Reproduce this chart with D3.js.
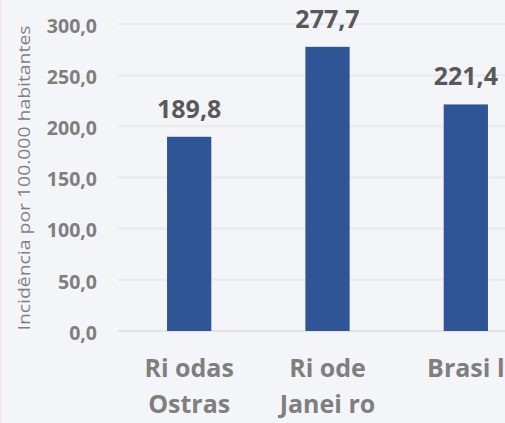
<!DOCTYPE html>
<html>
<head>
<meta charset="utf-8">
<script src="https://cdn.jsdelivr.net/npm/d3@7"></script>
<style>
  body { margin: 0; background: #f4f5f8; }
  svg { display: block; }
</style>
</head>
<body>
<script>
// categories (two lines each), values and tick labels
const categoryLines = [["Ri odas", "Ostras"], ["Ri ode", "Janei ro"], ["Brasi l"]];
const categories = ["Rio das Ostras", "Rio de Janeiro", "Brasil"];
const values = [189.8, 277.7, 221.4];
const yTicks = [0, 50, 100, 150, 200, 250, 300];
const yTitle = "Incidência por 100.000 habitantes";

const width = 505, height = 423;
const fmt = v => d3.format(".1f")(v).replace(".", ",");
const font = "'Open Sans', 'Liberation Sans', sans-serif";

let svg = d3.select("body").append("svg")
	.attr("width", width).attr("height", height);

svg.append("rect").attr("width", width).attr("height", height).attr("fill", "#f4f5f8");
// faint left border
svg.append("line").attr("x1", 0.5).attr("x2", 0.5).attr("y1", 0).attr("y2", height)
	.attr("stroke", "#f6e8d8").attr("stroke-width", 1);

let x = d3.scaleBand().domain(categories).range([120, 535]).paddingInner(0.68).paddingOuter(0.34);
let y = d3.scaleLinear().domain([0, 300]).range([331, 24]);

// gridlines
svg.append("g").selectAll("line")
	.data(yTicks)
	.enter().append("line")
	.attr("x1", 118).attr("x2", width)
	.attr("y1", d => y(d)).attr("y2", d => y(d))
	.attr("stroke", d => d == 0 ? "#e2e3e6" : "#e9eaed")
	.attr("stroke-width", 2);

// y axis labels
let yAxis = d3.axisLeft(y).tickValues(yTicks).tickFormat(fmt).tickSize(0).tickPadding(0);
let ya = svg.append("g").attr("transform", "translate(97,2)").call(yAxis);
ya.select(".domain").remove();
ya.selectAll("text")
	.attr("fill", "#7f7f7f")
	.style("font-family", font)
	.style("font-weight", "bold")
	.style("font-size", "19.5px");

// axis title
svg.append("text")
	.attr("transform", "translate(30,178) rotate(-90)")
	.attr("text-anchor", "middle")
	.attr("textLength", 305)
	.attr("lengthAdjust", "spacingAndGlyphs")
	.attr("fill", "#7f7f7f")
	.style("font-family", font)
	.style("font-size", "17px")
	.text(yTitle);

// bars
svg.append("g").selectAll("rect")
	.data(values)
	.enter().append("rect")
	.attr("x", (d, i) => x(categories[i]))
	.attr("width", x.bandwidth())
	.attr("y", d => y(d))
	.attr("height", d => y(0) - y(d))
	.attr("fill", "#2f5597");

// value labels
svg.append("g").selectAll("text")
	.data(values)
	.enter().append("text")
	.attr("x", (d, i) => x(categories[i]) + x.bandwidth() / 2)
	.attr("y", d => y(d) - 19)
	.attr("text-anchor", "middle")
	.attr("fill", "#595959")
	.style("font-family", font)
	.style("font-weight", "bold")
	.style("font-size", "25px")
	.text(fmt);

// category labels
let cat = svg.append("g").selectAll("text")
	.data(categoryLines)
	.enter().append("text")
	.attr("x", (d, i) => x(categories[i]) + x.bandwidth() / 2)
	.attr("y", 377)
	.attr("text-anchor", "middle")
	.attr("fill", "#7f7f7f")
	.style("font-family", font)
	.style("font-weight", "bold")
	.style("font-size", "25px");
cat.selectAll("tspan")
	.data(d => d)
	.enter().append("tspan")
	.attr("x", function() { return this.parentNode.getAttribute("x"); })
	.attr("dy", (d, i) => i == 0 ? 0 : 36)
	.text(d => d);
</script>
</body>
</html>
